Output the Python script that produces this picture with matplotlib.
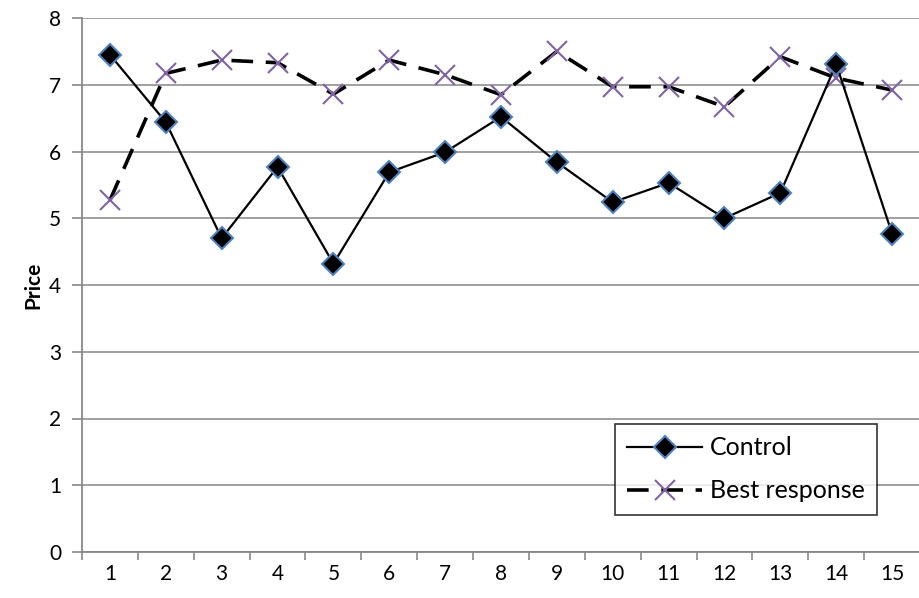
import numpy as np
import matplotlib.pyplot as plt

# ********** Data *********************
periods = list(range(1, 16))
control = [7.45, 6.44, 4.70, 5.77, 4.32, 5.69, 5.99, 6.52, 5.84, 5.24,
           5.53, 5.00, 5.38, 7.31, 4.77]
best_response = [5.27, 7.17, 7.37, 7.33, 6.86, 7.37, 7.15, 6.85, 7.50, 6.97,
                 6.97, 6.67, 7.42, 7.10, 6.92]
y_ticks = list(range(0, 9))
# *************************************

plt.rcParams['font.family'] = ['Lato', 'DejaVu Sans']


def main():
    fig = plt.figure(figsize=(9.2, 5.98), dpi=100)
    ax = fig.add_axes([82 / 920, 1 - 552 / 598, 838 / 920, 534 / 598])

    x = np.array(periods)
    ax.plot(x, control, color='black', lw=1.6, marker='D', markersize=11,
            markerfacecolor='black', markeredgecolor='#4f81bd',
            markeredgewidth=1.5, label='Control', zorder=4)
    ax.plot(x, best_response, color='black', lw=2.6, dashes=(6, 3.5),
            marker='x', markersize=15, markeredgecolor='#8064a2',
            markeredgewidth=1.5, label='Best response', zorder=3)

    ax.set_xlim(0.5, 15.5)
    ax.set_ylim(0, 8)
    ax.set_yticks(y_ticks)
    ax.set_xticks(x)
    ax.set_xticks(np.arange(0.5, 15.6, 1), minor=True)
    ax.tick_params(axis='x', which='major', length=0, pad=9, labelsize=15)
    ax.tick_params(axis='x', which='minor', length=6, color='#888888', width=1.2)
    ax.tick_params(axis='y', length=7, color='#888888', width=1.2, labelsize=15, pad=8)
    ax.yaxis.grid(True, color='#999999', lw=1.3)
    ax.set_axisbelow(True)
    for s in ['top', 'right']:
        ax.spines[s].set_visible(False)
    for s in ['left', 'bottom']:
        ax.spines[s].set_color('#888888')
        ax.spines[s].set_linewidth(1.3)

    ax.set_ylabel('Price', fontsize=15, fontweight='bold', labelpad=4)

    leg = ax.legend(loc='lower right', bbox_to_anchor=(0.964, 0.046),
                    fontsize=18, frameon=True, fancybox=False,
                    edgecolor='black', handlelength=3.0, borderpad=0.5,
                    labelspacing=0.8, handletextpad=0.3)
    leg.get_frame().set_linewidth(1.2)

    fig.savefig('out.png', dpi=100)


if __name__ == '__main__':
    main()
